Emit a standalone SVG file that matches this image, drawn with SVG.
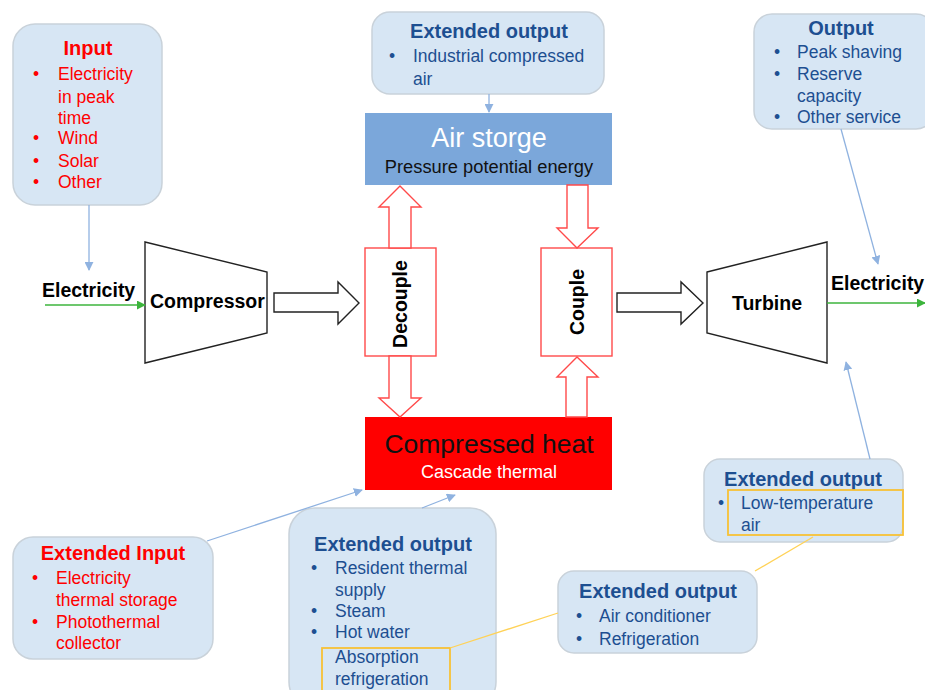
<svg xmlns="http://www.w3.org/2000/svg" width="925" height="690" viewBox="0 0 925 690">
<defs>
<style>
.box{fill:#d7e6f4;stroke:#c9d2da;stroke-width:1.5}
.t{font-family:"Liberation Sans",Arial,sans-serif}
.ttl{font-size:20px;font-weight:bold;text-anchor:middle}
.li{font-size:17.5px}
.blue{fill:#1d4f91}
.red{fill:#ff0000}
.conn{fill:none;stroke:#8fb2e0;stroke-width:1.3}
.yl{fill:none;stroke:#ffd257;stroke-width:1.3}
.yb{fill:none;stroke:#f8c136;stroke-width:1.8}
.hol{fill:#fff;stroke:#ff4a4a;stroke-width:1.4}
.blk{fill:#fff;stroke:#222;stroke-width:1.4}
.lbl{font-size:19.5px;font-weight:bold;fill:#000}
</style>
<marker id="ab" viewBox="0 0 10 10" refX="9" refY="5" markerWidth="9" markerHeight="9" markerUnits="userSpaceOnUse" orient="auto"><path d="M0,0L10,5L0,10z" fill="#8fb2e0"/></marker>
<marker id="ag" viewBox="0 0 10 10" refX="9" refY="5" markerWidth="9" markerHeight="9" markerUnits="userSpaceOnUse" orient="auto"><path d="M0,0L10,5L0,10z" fill="#3cb43c"/></marker>
</defs>

<g id="input">
<rect class="box" x="13" y="24" width="149" height="181" rx="22"/>
<text class="t ttl red" x="88" y="55">Input</text>
<g class="t li red">
<text x="33" y="80">•</text><text x="58" y="80">Electricity</text>
<text x="58" y="103">in peak</text>
<text x="58" y="124">time</text>
<text x="33" y="144">•</text><text x="58" y="144">Wind</text>
<text x="33" y="167">•</text><text x="58" y="167">Solar</text>
<text x="33" y="188">•</text><text x="58" y="188">Other</text>
</g>
</g>

<g id="elec-in"><text class="t lbl" x="42" y="297">Electricity</text></g>

<g id="compressor">
<path class="blk" d="M145,242L267,272V333L145,363z"/>
<text class="t lbl" x="150" y="308">Compressor</text>
</g>

<g id="ext-top">
<rect class="box" x="372" y="12" width="232" height="82" rx="18"/>
<text class="t ttl blue" x="489" y="38">Extended output</text>
<g class="t li blue">
<text x="389" y="62">•</text><text x="413" y="62">Industrial compressed</text>
<text x="413" y="85">air</text>
</g>
</g>

<g id="air-storage">
<rect x="365" y="113" width="247" height="72" fill="#7ba7da"/>
<text class="t" x="489" y="147" font-size="27" fill="#fff" text-anchor="middle">Air storge</text>
<text class="t" x="489" y="173" font-size="18.3" fill="#111" text-anchor="middle">Pressure potential energy</text>
</g>

<g id="decouple">
<rect class="hol" x="365" y="248" width="71" height="108"/>
<text class="t lbl" transform="translate(407,304) rotate(-90)" text-anchor="middle">Decouple</text>
</g>

<g id="couple">
<rect class="hol" x="541" y="248" width="71" height="108"/>
<text class="t lbl" transform="translate(584,302) rotate(-90)" text-anchor="middle">Couple</text>
</g>

<g id="compressed-heat">
<rect x="365" y="417" width="247" height="73" fill="#ff0000"/>
<text class="t" x="489" y="453" font-size="26.5" fill="#111" text-anchor="middle">Compressed heat</text>
<text class="t" x="489" y="478" font-size="18" fill="#fff" text-anchor="middle">Cascade thermal</text>
</g>

<g id="output">
<rect class="box" x="754" y="14" width="180" height="115" rx="18"/>
<text class="t ttl blue" x="841" y="35">Output</text>
<g class="t li blue">
<text x="774" y="58">•</text><text x="797" y="58">Peak shaving</text>
<text x="774" y="80">•</text><text x="797" y="80">Reserve</text>
<text x="797" y="102">capacity</text>
<text x="774" y="123">•</text><text x="797" y="123">Other service</text>
</g>
</g>

<g id="turbine">
<path class="blk" d="M707,272L827,242V363L707,333z"/>
<text class="t lbl" x="767" y="310" text-anchor="middle">Turbine</text>
</g>

<g id="elec-out"><text class="t lbl" x="831" y="290">Electricity</text></g>

<g id="ext-input">
<rect class="box" x="13" y="537" width="200" height="122" rx="20"/>
<text class="t ttl red" x="113" y="560">Extended Input</text>
<g class="t li red">
<text x="32" y="584">•</text><text x="56" y="584">Electricity</text>
<text x="56" y="606">thermal storage</text>
<text x="32" y="628">•</text><text x="56" y="628">Photothermal</text>
<text x="56" y="649">collector</text>
</g>
</g>

<g id="ext-heat">
<rect class="box" x="289" y="508" width="207" height="200" rx="26"/>
<text class="t ttl blue" x="393" y="551">Extended output</text>
<g class="t li blue">
<text x="311" y="574">•</text><text x="335" y="574">Resident thermal</text>
<text x="335" y="596">supply</text>
<text x="311" y="617">•</text><text x="335" y="617">Steam</text>
<text x="311" y="638">•</text><text x="335" y="638">Hot water</text>
<text x="335" y="663">Absorption</text>
<text x="335" y="685">refrigeration</text>
</g>
<rect class="yb" x="322" y="648" width="128" height="44"/>
</g>

<g id="ext-ac">
<rect class="box" x="558" y="571" width="199" height="82" rx="16"/>
<text class="t ttl blue" x="658" y="598">Extended output</text>
<g class="t li blue">
<text x="576" y="622">•</text><text x="599" y="622">Air conditioner</text>
<text x="576" y="645">•</text><text x="599" y="645">Refrigeration</text>
</g>
</g>

<g id="ext-low">
<rect class="box" x="704" y="459" width="199" height="83" rx="16"/>
<text class="t ttl blue" x="803" y="486">Extended output</text>
<g class="t li blue">
<text x="718" y="509">•</text><text x="741" y="509">Low-temperature</text>
<text x="741" y="531">air</text>
</g>
<rect class="yb" x="728" y="490" width="175" height="45"/>
</g>

<g id="connectors">
<line class="conn" x1="89" y1="205" x2="89" y2="270" marker-end="url(#ab)"/>
<line x1="45" y1="305" x2="145" y2="305" stroke="#3cb43c" stroke-width="1.5" marker-end="url(#ag)"/>
<line x1="827" y1="303" x2="925" y2="303" stroke="#3cb43c" stroke-width="1.5" marker-end="url(#ag)"/>
<line class="conn" x1="489" y1="94" x2="489" y2="112" marker-end="url(#ab)"/>
<line class="conn" x1="841" y1="129" x2="878" y2="264" marker-end="url(#ab)"/>
<line class="conn" x1="870" y1="459" x2="846" y2="362" marker-end="url(#ab)"/>
<line class="conn" x1="207" y1="541" x2="362" y2="490" marker-end="url(#ab)"/>
<line class="conn" x1="422" y1="508" x2="455" y2="495" marker-end="url(#ab)"/>
<line class="yl" x1="450" y1="648" x2="558" y2="613"/>
<line class="yl" x1="755" y1="571" x2="813" y2="537"/>
<path class="blk" d="M274,293H338V282L359,303L338,324V312H274z"/>
<path class="blk" d="M617,293H681V282L703,303L681,324V312H617z"/>
<path class="hol" d="M389,248V207H379L400,186L421,207H411V248z"/>
<path class="hol" d="M389,356V398H379L400,417L421,398H411V356z"/>
<path class="hol" d="M567,185V228H557L577,248L598,228H588V185z"/>
<path class="hol" d="M566,417V377H557L577,357L598,377H587V417z"/>
</g>
</svg>
